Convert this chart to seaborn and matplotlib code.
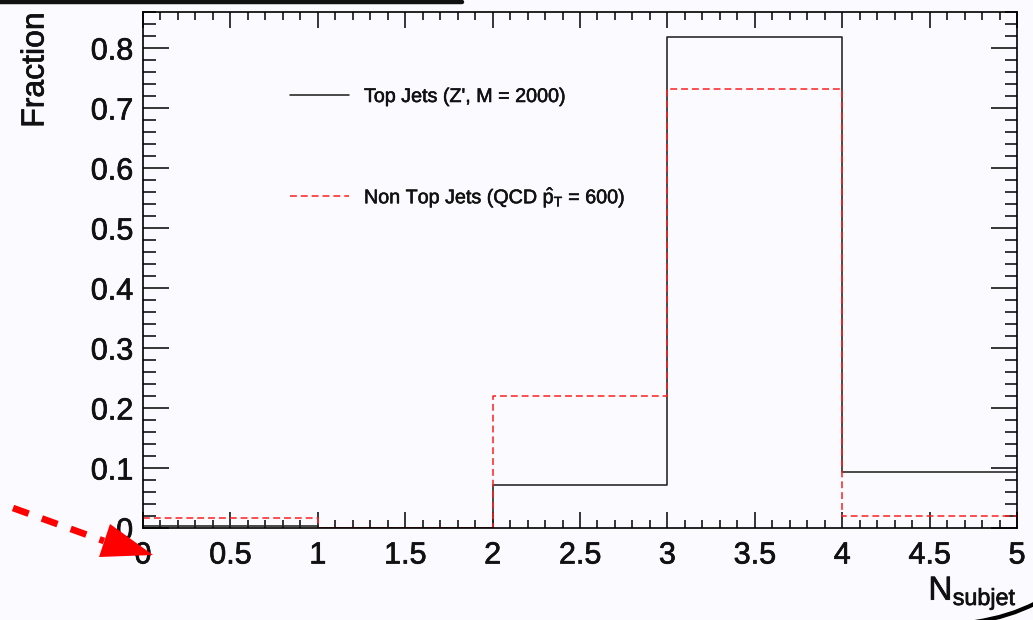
import numpy as np
import pandas as pd
import seaborn as sns
import matplotlib
matplotlib.use("Agg")
import matplotlib.pyplot as plt
import matplotlib.patheffects as pe
from matplotlib.lines import Line2D
from matplotlib.patches import Polygon, PathPatch
from matplotlib.path import Path
from matplotlib.ticker import MultipleLocator

# ---- data ----
bin_edges = [0, 1, 2, 3, 4, 5]
nsubjet_centers = [0.5, 1.5, 2.5, 3.5, 4.5]
top_jets = [0.004, 0.0, 0.072, 0.818, 0.094]
non_top_jets = [0.017, 0.0, 0.220, 0.732, 0.020]
label_top = "Top Jets (Z', M = 2000)"
label_qcd = r"Non Top Jets (QCD $\hat{\mathregular{p}}_{\mathregular{T}}$ = 600)"
x_ticks = [0, 0.5, 1, 1.5, 2, 2.5, 3, 3.5, 4, 4.5, 5]
x_tick_labels = ["0", "0.5", "1", "1.5", "2", "2.5", "3", "3.5", "4", "4.5", "5"]
y_ticks = [0, 0.1, 0.2, 0.3, 0.4, 0.5, 0.6, 0.7, 0.8]
y_tick_labels = ["0", "0.1", "0.2", "0.3", "0.4", "0.5", "0.6", "0.7", "0.8"]

df = pd.DataFrame({
    "nsubjet": nsubjet_centers * 2,
    "fraction": top_jets + non_top_jets,
    "sample": ["top"] * 5 + ["qcd"] * 5,
})

sns.set_style("ticks")
plt.rcParams["font.family"] = ["Liberation Sans", "DejaVu Sans"]
plt.rcParams["mathtext.fontset"] = "custom"
plt.rcParams["mathtext.rm"] = "Liberation Sans"
plt.rcParams["mathtext.default"] = "regular"

BG = "#fafaff"
TXT = "#111111"
W, H = 1033, 620
heavy = [pe.withStroke(linewidth=0.5, foreground=TXT)]

fig = plt.figure(figsize=(W / 100, H / 100), dpi=100, facecolor=BG)
ax = fig.add_axes([143 / W, 1 - 528 / H, (1017 - 143) / W, (528 - 12) / H])
ax.set_facecolor(BG)

sns.histplot(data=df[df["sample"] == "top"], x="nsubjet", weights="fraction",
             bins=bin_edges, element="step", fill=False, color="#222222",
             linewidth=1.15, ax=ax, label=label_top)
sns.histplot(data=df[df["sample"] == "qcd"], x="nsubjet", weights="fraction",
             bins=bin_edges, element="step", fill=False, color="#ff2020",
             linewidth=1.1, linestyle=(0, (4.5, 2.6)), ax=ax, label=label_qcd)

ax.set_xlim(0, 5)
ax.set_ylim(0, 0.86)
ax.set_xticks(x_ticks)
ax.set_xticklabels(x_tick_labels)
ax.set_yticks(y_ticks)
ax.set_yticklabels(y_tick_labels)
ax.xaxis.set_minor_locator(MultipleLocator(0.1))
ax.yaxis.set_minor_locator(MultipleLocator(0.02))
ax.tick_params(axis="both", which="both", direction="in", top=True, right=True,
               colors="black", labelcolor=TXT, width=1.1, labelsize=22)
ax.tick_params(axis="x", which="major", length=11.5, pad=9)
ax.tick_params(axis="x", which="minor", length=5.5)
ax.tick_params(axis="y", which="major", length=18.5, pad=7)
ax.tick_params(axis="y", which="minor", length=9)
for lab in ax.get_xticklabels() + ax.get_yticklabels():
    lab.set_path_effects(heavy)
for s in ax.spines.values():
    s.set_linewidth(1.2)
    s.set_color("black")

ax.set_xlabel(r"N$_{\mathregular{subjet}}$", fontsize=24, loc="right", labelpad=3,
              color=TXT, path_effects=heavy)
ax.set_ylabel("Fraction", fontsize=23, loc="top", labelpad=29, color=TXT,
              path_effects=heavy)

leg = ax.legend(loc="upper left", bbox_to_anchor=(290 / W, 1 - 87 / H),
                bbox_transform=fig.transFigure, frameon=False, fontsize=14.2,
                handlelength=3.0, handletextpad=0.75, labelspacing=4.0,
                borderpad=0, borderaxespad=0)
for t in leg.get_texts():
    t.set_color(TXT)
    t.set_path_effects([pe.withStroke(linewidth=0.4, foreground=TXT)])

# ---- slide decorations (pixel coordinates of the figure) ----
def P(x, y):
    return (x / W, 1 - y / H)

fig.add_artist(Line2D([P(-5, 2)[0], P(462, 2)[0]], [P(-5, 2)[1], P(462, 2)[1]],
                      transform=fig.transFigure, color="#111111", lw=3.2,
                      solid_capstyle="round"))
fig.add_artist(Line2D([P(13, 508)[0], P(104, 541)[0]], [P(13, 508)[1], P(104, 541)[1]],
                      transform=fig.transFigure, color="#ff0000", lw=4.8,
                      linestyle=(0, (2.5, 2.1)), solid_capstyle="butt",
                      dash_capstyle="butt"))
fig.add_artist(Polygon([P(110, 524), P(99, 557), P(153, 555)], closed=True,
                       transform=fig.transFigure, facecolor="#ff0000",
                       edgecolor="none"))
curve = Path([P(975, 622), P(1009, 617), P(1036, 603)],
             [Path.MOVETO, Path.CURVE3, Path.CURVE3])
fig.add_artist(PathPatch(curve, transform=fig.transFigure, facecolor="none",
                         edgecolor="black", lw=3.0))

fig.savefig("out.png", dpi=100, facecolor=BG)
